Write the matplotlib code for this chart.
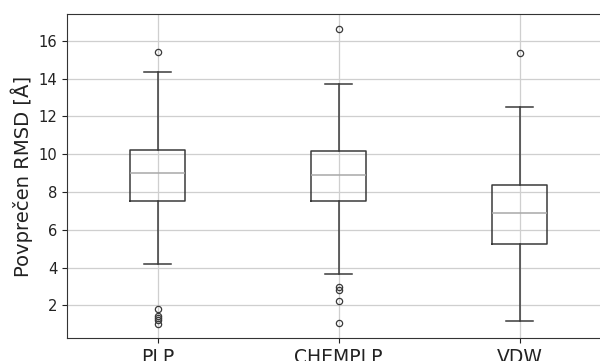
import matplotlib
matplotlib.use("Agg")
import matplotlib.pyplot as plt

labels = ["PLP", "CHEMPLP", "VDW"]
whislo = [4.17, 3.68, 1.15]
q1 = [7.51, 7.53, 5.27]
med = [8.98, 8.89, 6.89]
q3 = [10.22, 10.18, 8.38]
whishi = [14.37, 13.72, 12.50]
fliers = [
    [15.40, 1.82, 1.45, 1.35, 1.24, 1.03],
    [16.64, 2.97, 2.79, 2.22, 1.08],
    [15.36],
]

stats = []
for i, lab in enumerate(labels):
    stats.append({
        "label": lab,
        "whislo": whislo[i],
        "q1": q1[i],
        "med": med[i],
        "q3": q3[i],
        "whishi": whishi[i],
        "fliers": fliers[i],
    })

fig = plt.figure(figsize=(6.0, 3.61), dpi=100)
ax = fig.add_axes([67 / 600, 23 / 361, 543 / 600, 324 / 361])

line_c = "#3a3a3a"
ax.bxp(
    stats,
    boxprops=dict(color=line_c, linewidth=1.1),
    whiskerprops=dict(color=line_c, linewidth=1.1),
    capprops=dict(color=line_c, linewidth=1.1),
    medianprops=dict(color="#a8a8a8", linewidth=1.1),
    flierprops=dict(marker="o", markerfacecolor="none", markeredgecolor=line_c,
                    markersize=4.5, markeredgewidth=0.9),
)

ax.grid(True, color="#cfcfcf", linewidth=0.9)
ax.set_axisbelow(True)
ax.set_ylim(0.27, 17.42)
ax.set_yticks([2, 4, 6, 8, 10, 12, 14, 16])
ax.tick_params(axis="y", labelsize=10.6, colors="#222222")
ax.tick_params(axis="x", labelsize=13.5, colors="#222222")
ax.set_ylabel("Povprečen RMSD [Å]", fontsize=14.1, color="#222222")
for s in ax.spines.values():
    s.set_color("#333333")

fig.savefig("out.png", dpi=100)
